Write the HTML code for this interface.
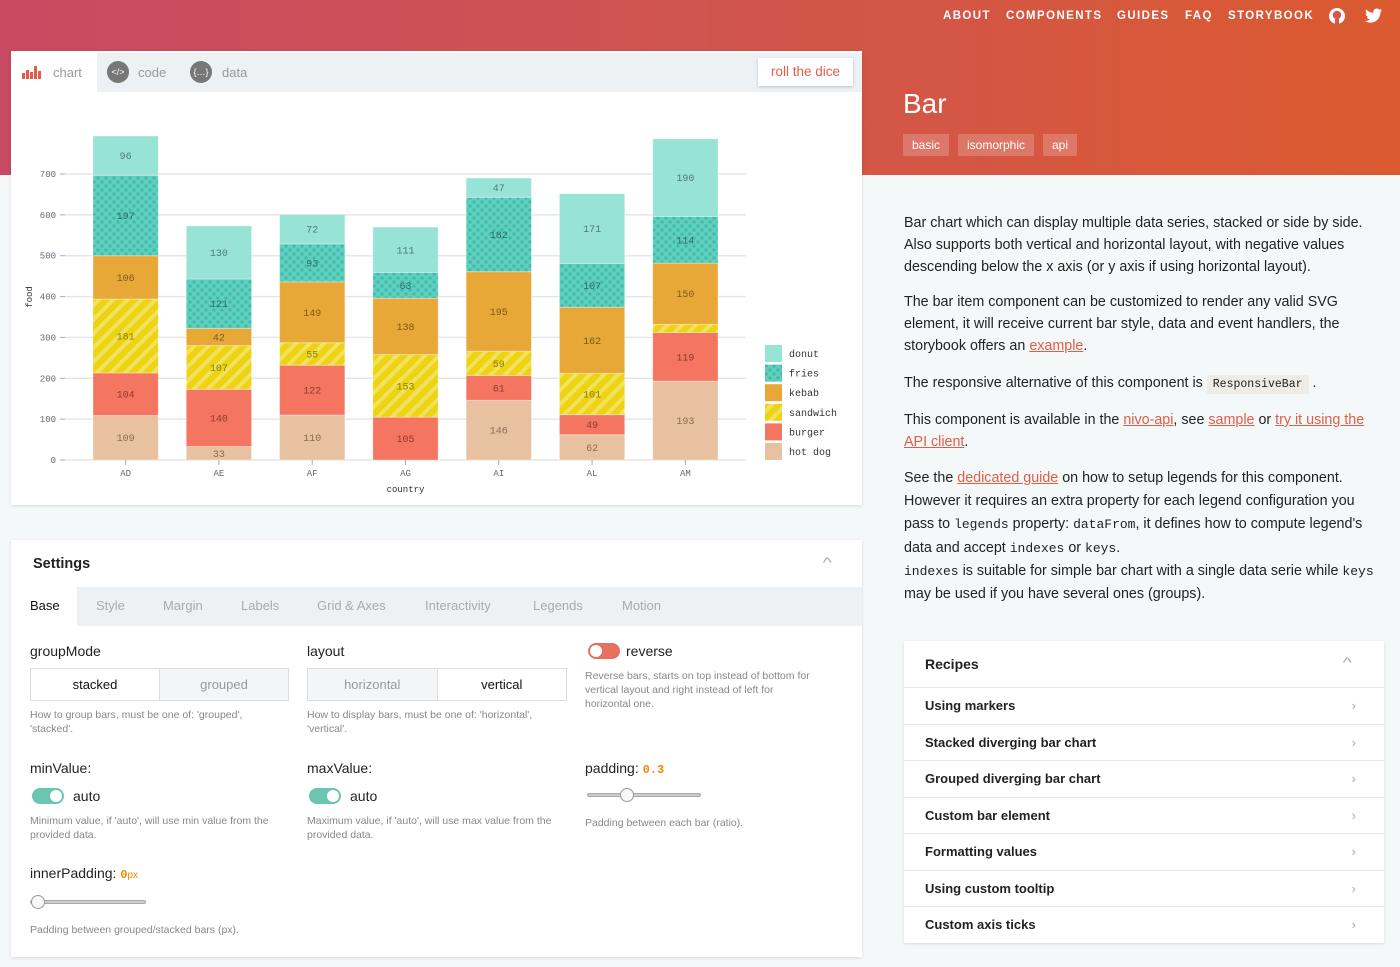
<!DOCTYPE html>
<html><head><meta charset="utf-8">
<style>
*{box-sizing:border-box;margin:0;padding:0}
body{width:1400px;height:967px;overflow:hidden;background:#f5f8f9;font-family:"Liberation Sans",sans-serif;color:#333;position:relative}
.abs{position:absolute}
#header{left:0;top:0;width:1400px;height:175px;background:linear-gradient(90deg,#c84a62 0%,#d0544f 50%,#db5a30 100%)}
.nav{top:10px;color:#fff;font-size:11.5px;font-weight:bold;letter-spacing:1.4px;white-space:nowrap}
.card{background:#fff;box-shadow:0 1px 3px rgba(0,0,0,.12)}
.tag{top:134px;height:22px;line-height:22px;font-size:12px;color:#fff;background:rgba(255,255,255,.2);padding:0 9px}
.txt{left:904px;width:485px;font-size:14.3px;line-height:22.2px;color:#222}
.txt a{color:#e25d47;text-decoration:underline}
code{font-family:"Liberation Mono",monospace;font-size:13px}
.lbl{font-size:14px;color:#222}
.desc{font-size:10.5px;color:#888;line-height:14px}
.seg{height:33px;border:1px solid #ddd;display:flex;font-size:13px}
.seg div{flex:1;text-align:center;line-height:31px}
.seg .on{background:#fff;color:#111}
.seg .off{background:#f3f5f6;color:#999;border-left:1px solid #ddd}
.stab{top:598px;font-size:13px;color:#aaa}
.row{left:904px;width:480px;height:36.4px;border-top:1px solid #e6e9ea;font-size:13px;font-weight:bold;color:#222;padding-left:21px;line-height:35px}
.row span{position:absolute;right:28px;color:#aaa;font-weight:normal}
.tog{width:32px;height:16px;border-radius:8px}
.tog i{position:absolute;top:2px;width:12px;height:12px;border-radius:6px;background:#fff}
.slider{height:4px;background:#ccc;border:1px solid #aaa;border-radius:2px}
.knob{width:14px;height:14px;border-radius:7px;background:#f8f8f8;border:1px solid #999}
</style></head><body>
<div id="header" class="abs"></div>
<div class="abs nav" style="left:943px">ABOUT</div>
<div class="abs nav" style="left:1006px">COMPONENTS</div>
<div class="abs nav" style="left:1117px">GUIDES</div>
<div class="abs nav" style="left:1185px">FAQ</div>
<div class="abs nav" style="left:1228px">STORYBOOK</div>
<svg class="abs" style="left:1328px;top:7px" width="18" height="18" viewBox="0 0 18 18"><circle cx="9" cy="9" r="8" fill="#fff"/><circle cx="9" cy="8" r="4.2" fill="#d5564a"/><rect x="7" y="12" width="4" height="6" fill="#d5564a"/></svg>
<svg class="abs" style="left:1365px;top:8px" width="18" height="16" viewBox="0 0 18 16"><path d="M17 2c-.6.3-1.3.5-2 .6.7-.4 1.3-1.1 1.5-1.9-.7.4-1.4.7-2.2.9C13.7.9 12.8.5 11.8.5c-1.9 0-3.5 1.6-3.5 3.5 0 .3 0 .5.1.8C5.5 4.7 2.9 3.3 1.2 1.2.9 1.7.7 2.3.7 3c0 1.2.6 2.3 1.6 2.9-.6 0-1.1-.2-1.6-.4 0 1.7 1.2 3.1 2.8 3.4-.5.1-1.1.2-1.6.1.4 1.4 1.7 2.4 3.3 2.4C4 12.4 2 13.1 0 13c1.6 1 3.4 1.6 5.4 1.6 6.5 0 10-5.4 10-10v-.5C16.1 3.6 16.6 2.9 17 2z" fill="#fff"/></svg>
<div class="abs" style="left:903px;top:88px;font-size:28px;font-weight:300;color:#fff">Bar</div>
<div class="abs tag" style="left:903px">basic</div>
<div class="abs tag" style="left:958px">isomorphic</div>
<div class="abs tag" style="left:1043px">api</div>

<!-- chart card -->
<div class="abs card" style="left:11px;top:51px;width:851px;height:454px">
 <div class="abs" style="left:0;top:2px;width:851px;height:39px;background:#eef1f3"></div>
 <div class="abs" style="left:0;top:2px;width:86px;height:39px;background:#fff">
  <svg class="abs" style="left:11px;top:12px" width="20" height="14"><rect x="0" y="8" width="3" height="6" fill="#e25d47"/><rect x="4" y="5" width="3" height="9" fill="#e25d47"/><rect x="8" y="7" width="3" height="7" fill="#e25d47"/><rect x="12" y="1" width="3" height="13" fill="#e25d47"/><rect x="16" y="6" width="3" height="8" fill="#e25d47"/></svg>
  <span class="abs" style="left:42px;top:12px;font-size:13px;color:#999">chart</span></div>
 <div class="abs" style="left:96px;top:10px;width:22px;height:22px;border-radius:11px;background:#777;color:#fff;font-size:9px;text-align:center;line-height:22px">&lt;/&gt;</div>
 <span class="abs" style="left:127px;top:14px;font-size:13px;color:#999">code</span>
 <div class="abs" style="left:179px;top:10px;width:22px;height:22px;border-radius:11px;background:#777;color:#fff;font-size:9px;text-align:center;line-height:22px">{…}</div>
 <span class="abs" style="left:211px;top:14px;font-size:13px;color:#999">data</span>
 <div class="abs" style="left:747px;top:7px;width:95px;height:28px;background:#fff;box-shadow:0 1px 3px rgba(0,0,0,.2);color:#e25d47;font-size:13.5px;text-align:center;line-height:28px">roll the dice</div>
</div>
<svg id="chart" class="abs" style="left:0;top:0" width="870" height="510">
 <defs>
  <pattern id="dots" width="8" height="8" patternUnits="userSpaceOnUse"><rect width="8" height="8" fill="#61cdbb"/><circle cx="2" cy="2" r="1.6" fill="#38bcb2"/><circle cx="6" cy="6" r="1.6" fill="#38bcb2"/></pattern>
  <pattern id="lines" width="10" height="10" patternUnits="userSpaceOnUse" patternTransform="rotate(-45)"><rect width="10" height="10" fill="#eed312"/><rect width="10" height="4" fill="#f1e15b"/></pattern>
 </defs>
 <g id="grid"></g><g id="bars"></g><g id="axes"></g><g id="legend"></g>
</svg>

<!-- description -->
<div class="abs txt" style="top:212px">Bar chart which can display multiple data series, stacked or side by side. Also supports both vertical and horizontal layout, with negative values descending below the x axis (or y axis if using horizontal layout).</div>
<div class="abs txt" style="top:291px">The bar item component can be customized to render any valid SVG element, it will receive current bar style, data and event handlers, the storybook offers an <a>example</a>.</div>
<div class="abs txt" style="top:372px">The responsive alternative of this component is <code style="background:#efebe7;padding:3px 6px;font-size:11.5px">ResponsiveBar</code> .</div>
<div class="abs txt" style="top:409px">This component is available in the <a>nivo-api</a>, see <a>sample</a> or <a>try it using the API client</a>.</div>
<div class="abs txt" style="top:467px;line-height:23.2px;width:500px;white-space:nowrap">See the <a>dedicated guide</a> on how to setup legends for this component.<br>However it requires an extra property for each legend configuration you<br>pass to <code>legends</code> property: <code>dataFrom</code>, it defines how to compute legend's<br>data and accept <code>indexes</code> or <code>keys</code>.<br><code>indexes</code> is suitable for simple bar chart with a single data serie while <code>keys</code><br>may be used if you have several ones (groups).</div>

<!-- settings -->
<div class="abs card" style="left:11px;top:540px;width:851px;height:417px">
 <div class="abs" style="left:22px;top:16px;font-size:14.5px;font-weight:bold;color:#222">Settings</div>
 <div class="abs" style="left:813px;top:14px;color:#aaa;font-size:14px;transform:scaleX(1.4)">^</div>
 <div class="abs" style="left:0;top:47px;width:851px;height:39px;background:#eef1f3"></div>
 <div class="abs" style="left:0;top:47px;width:66px;height:39px;background:#fff"></div>
</div>
<div class="abs stab" style="left:30px;color:#111">Base</div>
<div class="abs stab" style="left:96px">Style</div>
<div class="abs stab" style="left:163px">Margin</div>
<div class="abs stab" style="left:241px">Labels</div>
<div class="abs stab" style="left:317px">Grid &amp; Axes</div>
<div class="abs stab" style="left:425px">Interactivity</div>
<div class="abs stab" style="left:533px">Legends</div>
<div class="abs stab" style="left:622px">Motion</div>

<div class="abs lbl" style="left:30px;top:643px">groupMode</div>
<div class="abs seg" style="left:30px;top:668px;width:259px"><div class="on">stacked</div><div class="off">grouped</div></div>
<div class="abs desc" style="left:30px;top:708px;width:240px">How to group bars, must be one of: 'grouped', 'stacked'.</div>
<div class="abs lbl" style="left:307px;top:643px">layout</div>
<div class="abs seg" style="left:307px;top:668px;width:260px"><div class="off" style="border-left:0">horizontal</div><div class="on" style="border-left:1px solid #ddd">vertical</div></div>
<div class="abs desc" style="left:307px;top:708px;width:250px">How to display bars, must be one of: 'horizontal', 'vertical'.</div>
<div class="abs tog" style="left:588px;top:643px;background:#e8705f"><i style="left:2px"></i></div>
<div class="abs lbl" style="left:626px;top:643px">reverse</div>
<div class="abs desc" style="left:585px;top:669px;width:235px">Reverse bars, starts on top instead of bottom for vertical layout and right instead of left for horizontal one.</div>

<div class="abs lbl" style="left:30px;top:760px">minValue:</div>
<div class="abs tog" style="left:32px;top:788px;background:#6cc5b0"><i style="left:18px"></i></div>
<div class="abs lbl" style="left:73px;top:788px">auto</div>
<div class="abs desc" style="left:30px;top:814px;width:265px">Minimum value, if 'auto', will use min value from the provided data.</div>
<div class="abs lbl" style="left:307px;top:760px">maxValue:</div>
<div class="abs tog" style="left:309px;top:788px;background:#6cc5b0"><i style="left:18px"></i></div>
<div class="abs lbl" style="left:350px;top:788px">auto</div>
<div class="abs desc" style="left:307px;top:814px;width:250px">Maximum value, if 'auto', will use max value from the provided data.</div>
<div class="abs lbl" style="left:585px;top:760px">padding: <code style="color:#f08a00;font-size:12px;font-weight:bold">0.3</code></div>
<div class="abs slider" style="left:587px;top:793px;width:114px"></div>
<div class="abs knob" style="left:620px;top:788px"></div>
<div class="abs desc" style="left:585px;top:816px">Padding between each bar (ratio).</div>
<div class="abs lbl" style="left:30px;top:865px">innerPadding: <code style="color:#f08a00;font-size:12px;font-weight:bold">0</code><span style="color:#f08a00;font-size:10px">px</span></div>
<div class="abs slider" style="left:30px;top:900px;width:116px"></div>
<div class="abs knob" style="left:31px;top:895px"></div>
<div class="abs desc" style="left:30px;top:923px">Padding between grouped/stacked bars (px).</div>

<!-- recipes -->
<div class="abs card" style="left:904px;top:641px;width:480px;height:302px"></div>
<div class="abs" style="left:925px;top:656px;font-size:14px;font-weight:bold;color:#222">Recipes</div>
<div class="abs" style="left:1344px;top:654px;color:#aaa;font-size:14px;transform:scaleX(1.4)">^</div>
<div class="abs row" style="top:687px">Using markers<span>›</span></div>
<div class="abs row" style="top:723.5px">Stacked diverging bar chart<span>›</span></div>
<div class="abs row" style="top:760px">Grouped diverging bar chart<span>›</span></div>
<div class="abs row" style="top:796.5px">Custom bar element<span>›</span></div>
<div class="abs row" style="top:833px">Formatting values<span>›</span></div>
<div class="abs row" style="top:869.5px">Using custom tooltip<span>›</span></div>
<div class="abs row" style="top:906px">Custom axis ticks<span>›</span></div>

<script>
const countries = ["AD","AE","AF","AG","AI","AL","AM"];
const keys = ["hot dog","burger","sandwich","kebab","fries","donut"];
const hotdog = [109,33,110,0,146,62,193];
const burger = [104,140,122,105,61,49,119];
const sandwich = [181,107,55,153,59,101,20];
const kebab = [106,42,149,138,195,162,150];
const fries = [197,121,93,63,182,107,114];
const donut = [96,130,72,111,47,171,190];
const yTicks = [0,100,200,300,400,500,600,700];
const legendKeys = ["donut","fries","kebab","sandwich","burger","hot dog"];

const series = [hotdog,burger,sandwich,kebab,fries,donut];
const fills = ["#e8c1a0","#f47560","url(#lines)","#e8a838","url(#dots)","#97e3d5"];
const textCols = ["#8a6d55","#8f3a2d","#8a7d10","#7f5a14","#2e6e64","#4c7d74"];
const legendFills = {"donut":"#97e3d5","fries":"url(#dots)","kebab":"#e8a838","sandwich":"url(#lines)","burger":"#f47560","hot dog":"#e8c1a0"};
const NS="http://www.w3.org/2000/svg";
const x0=65,x1=746,y0=460,pxPer=286/700;
const step=(x1-x0)/(countries.length+0.3);
const bw=step*0.7;
const xScale=i=>x0+step*0.3+i*step;
const yScale=v=>y0-v*pxPer;
function mk(tag,attrs,parent){const e=document.createElementNS(NS,tag);for(const k in attrs)e.setAttribute(k,attrs[k]);parent.appendChild(e);return e;}
const grid=document.getElementById('grid'),bars=document.getElementById('bars'),axes=document.getElementById('axes'),legend=document.getElementById('legend');
yTicks.forEach(t=>{
 const y=yScale(t);
 const gl=mk('line',{x1:x0,x2:x1,y1:y,y2:y,stroke:'#e6e6e6','stroke-width':1.5},grid);
 
 
 mk('line',{x1:60,x2:65,y1:y,y2:y,stroke:'#aab'},axes);
 const tl=mk('text',{x:56,y:y+3,'text-anchor':'end','font-size':9,'font-family':'Liberation Mono, monospace',fill:'#667'},axes);
 tl.textContent=t;
 
 
});
countries.forEach((c,i)=>{
 const cx=xScale(i)+bw/2;
 mk('line',{x1:cx,x2:cx,y1:y0,y2:y0+5,stroke:'#aab'},axes);
 const xl=mk('text',{x:cx,y:y0+16,'text-anchor':'middle','font-size':9,'font-family':'Liberation Mono, monospace',fill:'#667'},axes);
 xl.textContent=c;
 
 
 let acc=0;
 series.forEach((s,k)=>{
  const v=s[i];
  if(v<=0){return;}
  const yt=yScale(acc+v),yb=yScale(acc);
  const r=mk('rect',{x:xScale(i),y:yt,width:bw,height:yb-yt,fill:fills[k],stroke:'rgba(255,255,255,0.35)','stroke-width':1},bars);
  
  
  if(v>=30){
   const tx=mk('text',{x:cx,y:(yt+yb)/2+3.5,'text-anchor':'middle','font-size':10,'font-family':'Liberation Mono, monospace',fill:textCols[k]},bars);
   tx.textContent=v;
   
   
  }
  acc+=v;
 });
});
const yt=mk('text',{x:0,y:0,transform:'translate(32,297) rotate(-90)','text-anchor':'middle','font-size':9,'font-family':'Liberation Mono, monospace',fill:'#333'},axes);
yt.textContent='food';


const xt=mk('text',{x:(x0+x1)/2,y:492,'text-anchor':'middle','font-size':9,'font-family':'Liberation Mono, monospace',fill:'#333'},axes);
xt.textContent='country';


legendKeys.forEach((k,j)=>{
 const y=345+j*19.6;
 const sw=mk('rect',{x:765,y:y,width:17,height:17,fill:legendFills[k]},legend);
 
 
 const lt=mk('text',{x:789,y:y+12,'font-size':10,'font-family':'Liberation Mono, monospace',fill:'#333'},legend);
 lt.textContent=k;
 
 
});
</script>
</body></html>
